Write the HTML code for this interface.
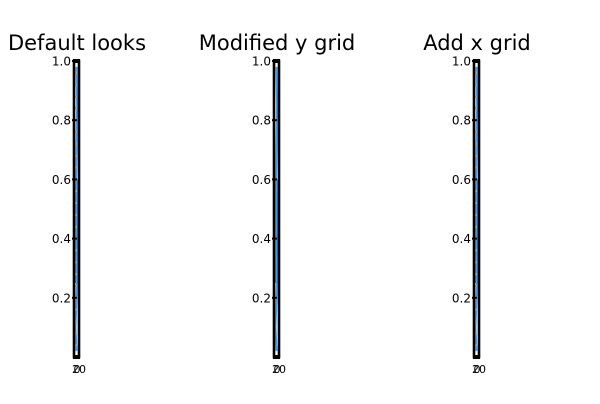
<!DOCTYPE html>
<html><head><meta charset="utf-8"><style>
body{margin:0;background:#fff;width:600px;height:400px;overflow:hidden;font-family:"DejaVu Sans","Liberation Sans",sans-serif}
</style></head><body>
<svg id="c" width="600" height="400" xmlns="http://www.w3.org/2000/svg"></svg>
<script>
const titles=["Default looks","Modified y grid","Add x grid"];
const yTicks=[0.2,0.4,0.6,0.8,1.0];
const xTicks=[0,20];
const seriesY=[0.02,0.1,0.25,0.4,0.53,0.6,0.58,0.7,0.85,0.98];
const seriesX=[10,5,12,8,9,11,7,10,13,10];
const svgEl=document.getElementById('c');
const NS="http://www.w3.org/2000/svg";
function mk(t,a,p){const e=document.createElementNS(NS,t);for(const k in a)e.setAttribute(k,a[k]);(p||svgEl).appendChild(e);return e;}
const axTop=61,axBot=357,axW=5;
function ys(v){return axBot-(v-0)/(1-0)*(axBot-axTop);}
titles.forEach((t,i)=>{
  const x0=74+200*i;
  const xs=v=>x0+0.5+(v/20)*(axW-1);
  const g=mk('g',{});
  
  
  const tt=mk('text',{x:x0+3,y:50,'font-size':21,'text-anchor':'middle',fill:'#000'},g);
  tt.textContent=t;
  
  
  const bar=mk('rect',{x:x0,y:ys(0.6),width:axW,height:ys(0.25)-ys(0.6),fill:'#0a8cf0'},g);
  
  
  let d=seriesY.map((v,j)=>(j?'L':'M')+xs(seriesX[j]).toFixed(1)+','+ys(v).toFixed(1)).join('');
  const ln=mk('path',{d:d,stroke:'#3a9ef0',fill:'none','stroke-width':2},g);
  
  
  if(i!=1){for(let v=0.04;v<1;v+=0.04){const gl=mk('line',{x1:x0,x2:x0+axW,y1:ys(v),y2:ys(v),stroke:'#aaa','stroke-width':2,'stroke-dasharray':'3,2'},g);
  
  }}
  const fr=mk('rect',{x:x0,y:axTop,width:axW,height:axBot-axTop,fill:'none',stroke:'#000','stroke-width':2.6},g);
  
  
  [axTop-2,axBot-2].forEach(yy=>{
    const cap=mk('rect',{x:x0-1,y:yy,width:axW+2,height:4,fill:'#000'},g);
    
    
  });
  yTicks.forEach(v=>{
    const tk=mk('line',{x1:x0-2,x2:x0+3,y1:ys(v),y2:ys(v),stroke:'#000','stroke-width':2},g);
    
    
    const l=mk('text',{x:x0-3,y:ys(v)+4.5,'font-size':12,'text-anchor':'end',fill:'#000'},g);
    l.textContent=v.toFixed(1);
    
    
  });
  xTicks.forEach(v=>{
    const l=mk('text',{x:x0+3+(v?2:0),y:373,'font-size':11,'text-anchor':'middle',fill:'#000'},g);
    l.textContent=v;
    
    
  });
});
</script>
</body></html>
